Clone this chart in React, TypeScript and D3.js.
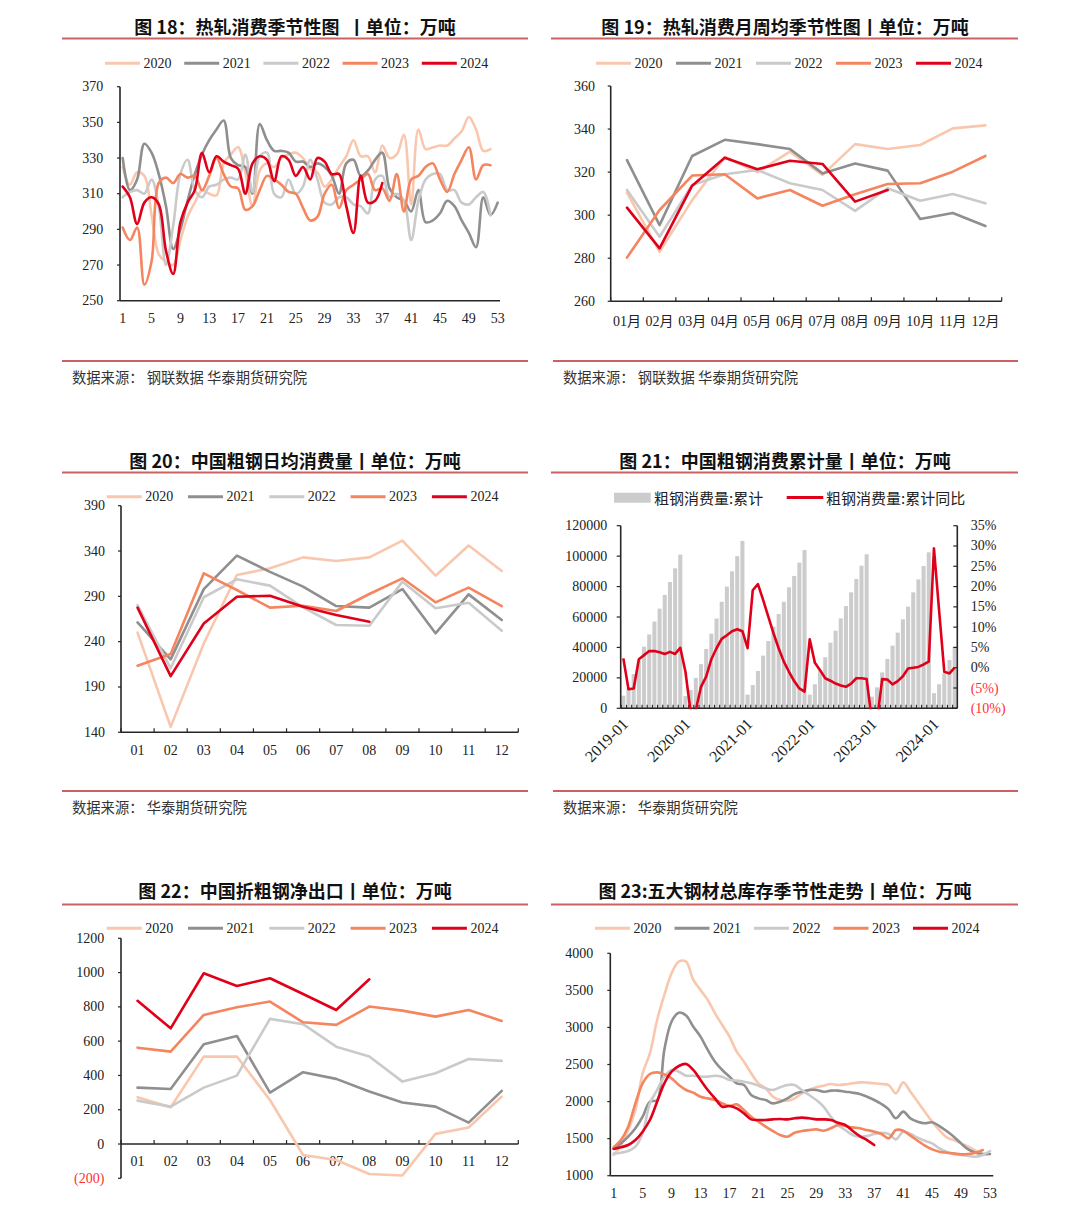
import React from 'react';
import * as d3 from 'd3';

const YEARS = ['2020', '2021', '2022', '2023', '2024'];
const YEAR_COLORS = ['#f9c7ae', '#8f8f8f', '#cacaca', '#f5855f', '#e0001a'];

const SERIF = "'Liberation Serif', 'Times New Roman', 'Noto Sans CJK SC', serif";
const CJK = "'Noto Sans CJK SC', 'Noto Sans', sans-serif";
const AXIS = '#262626';
const RULE = '#c96363';

// 图18 热轧消费季节性（周）
const hrWeek2020 = [325, 315, 322, 320, 298, 276, 272, 270, 284, 297, 305, 312, 310, 309, 327, 332, 336, 322, 303, 323, 327, 325, 330, 332, 333, 330, 324, 322, 314, 318, 325, 331, 340, 331, 331, 322, 337, 330, 332, 343, 304, 346, 335, 336, 337, 337, 341, 345, 353, 346, 334, 335];
const hrWeek2021 = [330, 312, 318, 338, 333, 321, 303, 279, 290, 306, 321, 332, 340, 346, 351, 330, 326, 325, 310, 349, 340, 334, 334, 333, 328, 328, 325, 327, 325, 320, 310, 327, 329, 320, 323, 329, 333, 313, 308, 306, 300, 312, 294, 295, 299, 306, 303, 295, 288, 280, 308, 298, 305];
const hrWeek2022 = [308, 311, 312, 310, 318, 303, 270, 292, 321, 329, 312, 308, 314, 315, 318, 319, 318, 332, 311, 331, 333, 310, 308, 318, 310, 314, 329, 318, 305, 304, 308, 308, 304, 303, 299, 318, 320, 308, 310, 306, 284, 306, 318, 321, 321, 312, 312, 305, 304, 308, 311, 298];
const hrWeek2023 = [291, 284, 291, 259, 272, 316, 319, 316, 321, 319, 320, 312, 320, 330, 321, 314, 313, 301, 303, 312, 320, 318, 315, 311, 310, 302, 295, 297, 310, 315, 302, 312, 315, 318, 321, 312, 313, 306, 321, 300, 318, 320, 325, 327, 318, 311, 321, 329, 336, 318, 326, 326];
const hrWeek2024 = [314, 308, 293, 305, 308, 304, 278, 265, 294, 305, 312, 333, 322, 331, 328, 326, 324, 310, 327, 331, 329, 317, 331, 329, 320, 325, 318, 330, 328, 321, 321, 303, 288, 320, 305, 306, 316];

// 图19 热轧消费月周均
const hrMonth2020 = [310.5, 283, 307, 327, 320, 329.5, 318.7, 333, 330.7, 332.6, 340.3, 341.7];
const hrMonth2021 = [325.6, 295.4, 327.5, 335, 333, 330.7, 319.4, 324, 320.7, 298.2, 301, 295];
const hrMonth2022 = [311.7, 290, 314, 319, 321, 314.8, 311.7, 302, 312.5, 306.7, 309.8, 305.5];
const hrMonth2023 = [280.3, 302.4, 318.4, 319, 307.8, 311.7, 304.4, 309.7, 314.5, 314.8, 320.2, 327.5];
const hrMonth2024 = [303.5, 284.6, 313.7, 326.7, 321.3, 325.3, 323.8, 306.3, 311.7];

// 图20 中国粗钢日均消费量
const daily2020 = [250, 146, 238, 313.5, 321, 333, 329, 333, 351.4, 312.8, 346, 318];
const daily2021 = [261.3, 220.5, 298, 334.9, 317, 300.7, 279.3, 277.5, 298, 249.2, 292.2, 264];
const daily2022 = [280.4, 210.6, 289, 308.8, 301.8, 277.9, 258.4, 257.6, 306.2, 276.8, 283, 252];
const daily2023 = [213.5, 226.4, 315.4, 297, 277.5, 279.7, 273.8, 292.6, 309.9, 283.4, 299.6, 279.3];
const daily2024 = [277.5, 202, 260, 289.6, 290.7, 278.6, 269.4, 262];

// 图21 中国粗钢消费累计量（月）
const CUM_YEARS = ['2019', '2020', '2021', '2022', '2023', '2024'];
const cum2019 = [8300, 13500, 22500, 31500, 40500, 48500, 57000, 65500, 74500, 83000, 92000, 101000];
const cum2020 = [8000, 12000, 20000, 29000, 39000, 49000, 59000, 70000, 80000, 90000, 100000, 110000];
const cum2021 = [9000, 15300, 24500, 34600, 44200, 53600, 62000, 70000, 79500, 87000, 95700, 104000];
const cum2022 = [9000, 15800, 25000, 33500, 43100, 51000, 59100, 67200, 76200, 85000, 93700, 101200];
const cum2023 = [7700, 13800, 23600, 32400, 41200, 49700, 58500, 66800, 76200, 84700, 93500, 102500];
const cum2024 = [9900, 15800, 23000, 31800, 40500];
const yoy2019 = [2.3, -5.3, -5.1, 2.1, 3.1, 4.1, 4.1, 3.8, 3.4, 3.9, 3.4, 4.9];
const yoy2020 = [-1, -11, -10.4, -4.7, -2.2, 2.1, 4.8, 7.1, 8, 9, 9.5, 9];
const yoy2021 = [4.8, 19.1, 20.6, 16.7, 12.6, 8.5, 4.8, 1.5, -1, -3.3, -5.1, -5.9];
const yoy2022 = [7, 1.2, -0.6, -2.6, -3.2, -3.9, -4.4, -4.7, -3.9, -2.6, -2.6, -2.8];
const yoy2023 = [-13, -13, -2.8, -2.9, -4.1, -3.3, -2.1, -0.2, 0, 0.2, 0.8, 1.5];
const yoy2024 = [29.4, 14, -1, -1.4, 0];
const CUM_TICKS = ['2019-01', '2020-01', '2021-01', '2022-01', '2023-01', '2024-01'];
const LEFT_TICKS = [0, 20000, 40000, 60000, 80000, 100000, 120000];
const RIGHT_TICKS = [-10, -5, 0, 5, 10, 15, 20, 25, 30, 35];

// 图22 中国折粗钢净出口
const net2020 = [273, 214, 510, 510, 257, -64, -93, -175, -184, 59, 96, 277];
const net2021 = [329, 321, 582, 630, 300, 419, 380, 306, 242, 218, 125, 310];
const net2022 = [253, 218, 329, 399, 730, 699, 568, 510, 364, 413, 496, 485];
const net2023 = [562, 539, 753, 798, 831, 710, 695, 802, 778, 743, 782, 718];
const net2024 = [835, 675, 996, 922, 967, 875, 782, 961];

// 图23 五大钢材总库存（周）
const inv2020 = [1279, 1414, 1616, 1886, 2381, 2651, 3100, 3438, 3730, 3888, 3888, 3640, 3505, 3370, 3190, 3033, 2876, 2673, 2538, 2381, 2246, 2178, 2066, 2021, 2012, 2043, 2111, 2156, 2192, 2214, 2237, 2223, 2232, 2246, 2259, 2255, 2246, 2237, 2223, 2111, 2259, 2133, 1998, 1864, 1729, 1616, 1517, 1481, 1436, 1391, 1337, 1292];
const inv2021 = [1369, 1436, 1526, 1639, 1796, 1998, 2021, 2700, 3080, 3199, 3160, 3010, 2876, 2696, 2538, 2426, 2336, 2246, 2223, 2088, 2043, 2021, 1976, 1998, 2043, 2102, 2133, 2156, 2156, 2133, 2147, 2147, 2133, 2120, 2102, 2066, 2021, 1967, 1895, 1774, 1864, 1774, 1729, 1707, 1720, 1670, 1603, 1526, 1436, 1355, 1310, 1292, 1292];
const inv2022 = [1300, 1310, 1333, 1391, 1571, 1976, 2156, 2336, 2426, 2403, 2349, 2349, 2336, 2336, 2349, 2336, 2291, 2282, 2268, 2246, 2214, 2178, 2156, 2192, 2223, 2223, 2156, 2088, 2021, 1931, 1796, 1684, 1616, 1549, 1526, 1535, 1562, 1580, 1562, 1490, 1594, 1562, 1513, 1472, 1436, 1369, 1324, 1288, 1279, 1265, 1256, 1279, 1333];
const inv2023 = [1383, 1481, 1661, 1976, 2246, 2372, 2394, 2367, 2313, 2223, 2156, 2120, 2066, 2043, 2021, 1976, 1940, 1962, 1886, 1796, 1729, 1661, 1603, 1549, 1526, 1580, 1603, 1616, 1625, 1607, 1639, 1684, 1670, 1652, 1639, 1616, 1594, 1562, 1504, 1616, 1607, 1540, 1472, 1405, 1355, 1324, 1310, 1301, 1288, 1292, 1310, 1346];
const inv2024 = [1360, 1383, 1414, 1481, 1594, 1751, 1998, 2246, 2403, 2480, 2507, 2426, 2291, 2156, 2043, 1931, 1940, 1908, 1841, 1760, 1751, 1751, 1760, 1765, 1760, 1774, 1783, 1774, 1760, 1760, 1751, 1715, 1684, 1607, 1535, 1481, 1414];

const WEEK_TICKS = [1, 5, 9, 13, 17, 21, 25, 29, 33, 37, 41, 45, 49, 53];
const MONTHS_CN = ['01月', '02月', '03月', '04月', '05月', '06月', '07月', '08月', '09月', '10月', '11月', '12月'];
const MONTHS_NUM = ['01', '02', '03', '04', '05', '06', '07', '08', '09', '10', '11', '12'];

const TITLES = [
  '图 18：热轧消费季节性图  丨单位：万吨',
  '图 19：热轧消费月周均季节性图丨单位：万吨',
  '图 20：中国粗钢日均消费量丨单位：万吨',
  '图 21：中国粗钢消费累计量丨单位：万吨',
  '图 22：中国折粗钢净出口丨单位：万吨',
  '图 23:五大钢材总库存季节性走势丨单位：万吨',
];
const SOURCE_A = '数据来源： 钢联数据 华泰期货研究院';
const SOURCE_B = '数据来源： 华泰期货研究院';
const CUM_LEGEND = ['粗钢消费量:累计', '粗钢消费量:累计同比'];

function Legend({ x0, y, step }: { x0: number; y: number; step: number }) {
  return (
    <g>
      {YEARS.map((yr, k) => (
        <g key={yr} transform={`translate(${x0 + k * step},${y})`}>
          <line x1={0} x2={35} y1={0} y2={0} stroke={YEAR_COLORS[k]} strokeWidth={3} />
          <text x={38.5} y={0} dominantBaseline="central" fontFamily={SERIF} fontSize={14} fill="#222">{yr}</text>
        </g>
      ))}
    </g>
  );
}

interface SeasonalProps {
  left: number; right: number; top: number; bottom: number;
  yDomain: [number, number]; yTicks: number[]; yLabelX: number;
  series: number[][];
  weekly?: [number, number];
  months?: string[];
  xLabelY: number;
  baseline?: number;
  smooth?: boolean;
  legend: { x0: number; y: number; step: number };
}

function SeasonalPanel(p: SeasonalProps) {
  const y = d3.scaleLinear().domain(p.yDomain).range([p.bottom, p.top]);
  const axisY = p.baseline !== undefined ? y(p.baseline) : p.bottom;
  let xAt: (i: number) => number;
  let labels: { x: number; t: string }[];
  let xTicks: number[] = [];
  if (p.weekly) {
    const x = d3.scaleLinear().domain([1, 53]).range(p.weekly);
    xAt = (i) => x(i + 1);
    labels = WEEK_TICKS.map((w) => ({ x: x(w), t: String(w) }));
  } else {
    const months = p.months as string[];
    const x = d3.scaleBand<string>().domain(months).range([p.left, p.right]);
    const c = (m: string) => (x(m) ?? 0) + x.bandwidth() / 2;
    xAt = (i) => c(months[i]);
    labels = months.map((m) => ({ x: c(m), t: m }));
    xTicks = months.map((m) => x(m) ?? 0).concat([p.right]);
  }
  const line = d3
    .line<number>()
    .x((_, i) => xAt(i))
    .y((d) => y(d))
    .curve(p.smooth ? d3.curveCatmullRom.alpha(0.5) : d3.curveLinear);

  return (
    <g>
      <Legend {...p.legend} />
      <line x1={p.left} x2={p.left} y1={p.top} y2={p.bottom} stroke={AXIS} strokeWidth={1.6} />
      <line x1={p.left} x2={p.right} y1={axisY} y2={axisY} stroke={AXIS} strokeWidth={1.6} />
      {p.yTicks.map((v) => (
        <g key={v}>
          <line x1={p.left - 3} x2={p.left} y1={y(v)} y2={y(v)} stroke={AXIS} strokeWidth={1.2} />
          <text x={p.yLabelX} y={y(v)} textAnchor="end" dominantBaseline="central" fontFamily={SERIF} fontSize={14}
            fill={v < 0 ? '#ff3030' : '#222'}>
            {v < 0 ? `(${-v})` : v}
          </text>
        </g>
      ))}
      {xTicks.map((tx, i) => (
        <line key={i} x1={tx} x2={tx} y1={axisY - 4} y2={axisY} stroke={AXIS} strokeWidth={1.2} />
      ))}
      {labels.map((l) => (
        <text key={l.t} x={l.x} y={p.xLabelY} textAnchor="middle" dominantBaseline="central" fontFamily={SERIF} fontSize={14} fill="#222">
          {l.t}
        </text>
      ))}
      {p.series.map((s, k) => (
        <path key={k} d={line(s) ?? ''} fill="none" stroke={YEAR_COLORS[k]} strokeWidth={2.6} strokeLinejoin="round" strokeLinecap="round" />
      ))}
    </g>
  );
}

function CumulativePanel() {
  const left = 620.7, right = 957.3, top = 525.7, bottom = 708.3;
  const bars = [...cum2019, ...cum2020, ...cum2021, ...cum2022, ...cum2023, ...cum2024];
  const yoy = [...yoy2019, ...yoy2020, ...yoy2021, ...yoy2022, ...yoy2023, ...yoy2024];
  const cats = CUM_YEARS.flatMap((yr) => MONTHS_NUM.map((m) => `${yr}-${m}`)).slice(0, bars.length);
  const x = d3.scaleBand<string>().domain(cats).range([left, right]).paddingInner(0.22).paddingOuter(0.12);
  const yL = d3.scaleLinear().domain([0, 120000]).range([bottom, top]);
  const yR = d3.scaleLinear().domain([-10, 35]).range([bottom, top]);
  const cx = (c: string) => (x(c) ?? 0) + x.bandwidth() / 2;
  const line = d3.line<number>().x((_, i) => cx(cats[i])).y((d) => yR(d));

  return (
    <g>
      <defs>
        <clipPath id="cumClip">
          <rect x={left} y={top - 5} width={right - left} height={bottom - top + 6} />
        </clipPath>
      </defs>
      <rect x={614} y={492.7} width={36.7} height={10} fill="#cccccc" />
      <text x={654} y={497.7} dominantBaseline="central" fontFamily={CJK} fontSize={15} fill="#222">{CUM_LEGEND[0]}</text>
      <line x1={786.7} x2={823.3} y1={497.5} y2={497.5} stroke="#e0001a" strokeWidth={3} />
      <text x={826} y={497.7} dominantBaseline="central" fontFamily={CJK} fontSize={15} fill="#222">{CUM_LEGEND[1]}</text>

      {bars.map((v, i) => (
        <rect key={cats[i]} x={x(cats[i])} y={yL(v)} width={x.bandwidth()} height={bottom - yL(v)} fill="#cccccc" />
      ))}

      <line x1={left} x2={left} y1={top} y2={bottom} stroke={AXIS} strokeWidth={1.6} />
      <line x1={right} x2={right} y1={top} y2={bottom} stroke={AXIS} strokeWidth={1.6} />
      <line x1={left} x2={right} y1={bottom} y2={bottom} stroke={AXIS} strokeWidth={1.6} />
      {LEFT_TICKS.map((v) => (
        <g key={v}>
          <line x1={left - 4} x2={left} y1={yL(v)} y2={yL(v)} stroke={AXIS} strokeWidth={1.2} />
          <text x={607.3} y={yL(v)} textAnchor="end" dominantBaseline="central" fontFamily={SERIF} fontSize={14} fill="#222">{v}</text>
        </g>
      ))}
      {RIGHT_TICKS.map((v) => (
        <g key={v}>
          <line x1={right - 4} x2={right} y1={yR(v)} y2={yR(v)} stroke={AXIS} strokeWidth={1.2} />
          <text x={970.7} y={yR(v)} dominantBaseline="central" fontFamily={SERIF} fontSize={14} fill={v < 0 ? '#ff3030' : '#222'}>
            {v < 0 ? `(${-v}%)` : `${v}%`}
          </text>
        </g>
      ))}
      {cats.map((c) => (
        <line key={c} x1={x(c) ?? 0} x2={x(c) ?? 0} y1={bottom - 3.5} y2={bottom} stroke={AXIS} strokeWidth={1.1} />
      ))}
      {CUM_TICKS.map((t) => (
        <text key={t} transform={`translate(${cx(t) + 2},${bottom + 13}) rotate(-45)`} textAnchor="end" dominantBaseline="central"
          fontFamily={SERIF} fontSize={16} fill="#222">
          {t}
        </text>
      ))}
      <path d={line(yoy) ?? ''} fill="none" stroke="#e0001a" strokeWidth={2.6} strokeLinejoin="round" clipPath="url(#cumClip)" />
    </g>
  );
}

function Header({ text, cx, cy, x1, x2, ruleY }: { text: string; cx: number; cy: number; x1: number; x2: number; ruleY: number }) {
  return (
    <g>
      <text x={cx} y={cy} textAnchor="middle" dominantBaseline="central" fontFamily={CJK} fontWeight={700} fontSize={18} fill="#111"
        style={{ whiteSpace: 'pre' }}>
        {text}
      </text>
      <line x1={x1} x2={x2} y1={ruleY} y2={ruleY} stroke={RULE} strokeWidth={2} />
    </g>
  );
}

function Source({ text, x1, x2, ruleY }: { text: string; x1: number; x2: number; ruleY: number }) {
  return (
    <g>
      <line x1={x1} x2={x2} y1={ruleY} y2={ruleY} stroke={RULE} strokeWidth={2} />
      <text x={x1 + 10} y={ruleY + 15} dominantBaseline="central" fontFamily={CJK} fontSize={14.3} fill="#333"
        style={{ whiteSpace: 'pre' }}>
        {text}
      </text>
    </g>
  );
}

export default function App() {
  const tick = (a: number, b: number, s: number) => d3.range(a, b + s / 2, s);
  return (
    <div style={{ position: 'absolute', left: 0, top: 0 }}>
      <svg width={1080} height={1218} viewBox="0 0 1080 1218" style={{ display: 'block', background: '#fff' }}>
        <rect width={1080} height={1218} fill="#fff" />
        <Header text={TITLES[0]} cx={295} cy={26} x1={62} x2={528} ruleY={38.5} />
        <Header text={TITLES[1]} cx={785} cy={26} x1={551} x2={1018} ruleY={38.5} />
        <Header text={TITLES[2]} cx={295} cy={460} x1={62} x2={528} ruleY={472.5} />
        <Header text={TITLES[3]} cx={785} cy={460} x1={551} x2={1018} ruleY={472.5} />
        <Header text={TITLES[4]} cx={295} cy={890} x1={62} x2={528} ruleY={904.5} />
        <Header text={TITLES[5]} cx={785} cy={890} x1={551} x2={1018} ruleY={904.5} />

        <Source text={SOURCE_A} x1={62} x2={528} ruleY={361} />
        <Source text={SOURCE_A} x1={553} x2={1018} ruleY={361} />
        <Source text={SOURCE_B} x1={62} x2={528} ruleY={791} />
        <Source text={SOURCE_B} x1={553} x2={1018} ruleY={791} />

        <SeasonalPanel
          left={120} right={500} top={86.7} bottom={300.7}
          yDomain={[250, 370]} yTicks={tick(250, 370, 20)} yLabelX={103.3}
          weekly={[122.7, 497.7]} xLabelY={318.3} smooth
          series={[hrWeek2020, hrWeek2021, hrWeek2022, hrWeek2023, hrWeek2024]}
          legend={{ x0: 105, y: 63.3, step: 79.2 }}
        />
        <SeasonalPanel
          left={610.7} right={1001.7} top={86} bottom={301.3}
          yDomain={[260, 360]} yTicks={tick(260, 360, 20)} yLabelX={595}
          months={MONTHS_CN} xLabelY={321.7}
          series={[hrMonth2020, hrMonth2021, hrMonth2022, hrMonth2023, hrMonth2024]}
          legend={{ x0: 596, y: 63.3, step: 80 }}
        />
        <SeasonalPanel
          left={121} right={518.3} top={505.7} bottom={732.3}
          yDomain={[140, 390]} yTicks={tick(140, 390, 50)} yLabelX={105}
          months={MONTHS_NUM} xLabelY={750}
          series={[daily2020, daily2021, daily2022, daily2023, daily2024]}
          legend={{ x0: 106.7, y: 496.7, step: 81.3 }}
        />
        <CumulativePanel />
        <SeasonalPanel
          left={121} right={518.3} top={938.3} bottom={1178.3}
          yDomain={[-200, 1200]} yTicks={tick(-200, 1200, 200)} yLabelX={104.3}
          months={MONTHS_NUM} xLabelY={1161.7} baseline={0}
          series={[net2020, net2021, net2022, net2023, net2024]}
          legend={{ x0: 106.7, y: 928.3, step: 81.3 }}
        />
        <SeasonalPanel
          left={610.3} right={993.3} top={953.3} bottom={1175.7}
          yDomain={[1000, 4000]} yTicks={tick(1000, 4000, 500)} yLabelX={593.3}
          weekly={[613.7, 990]} xLabelY={1193.3} smooth
          series={[inv2020, inv2021, inv2022, inv2023, inv2024]}
          legend={{ x0: 595, y: 928.3, step: 79.5 }}
        />
      </svg>
    </div>
  );
}
